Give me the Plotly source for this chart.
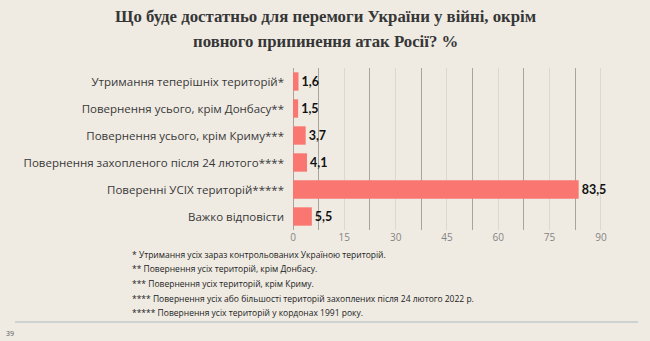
import plotly.graph_objects as go

# Survey answers (%), listed top to bottom
categories = [
    "Утримання теперішніх територій*",
    "Повернення усього, крім Донбасу**",
    "Повернення усього, крім Криму***",
    "Повернення захопленого після 24 лютого****",
    "Поверенні УСІХ територій*****",
    "Важко відповісти",
]
values = [1.6, 1.5, 3.7, 4.1, 83.5, 5.5]
tick_values = [0, 15, 30, 45, 60, 75, 90]

footnotes = [
    "* Утримання усіх зараз контрольованих Україною територій.",
    "** Повернення усіх територій, крім Донбасу.",
    "*** Повернення усіх територій, крім Криму.",
    "**** Повернення усіх або більшості територій захоплених після 24 лютого 2022 р.",
    "***** Повернення усіх територій у кордонах 1991 року.",
]

title_lines = [
    "Що буде достатньо для перемоги України у війні, окрім",
    "повного припинення атак Росії? %",
]

W, H = 650, 341
L, R, T, B = 293, 32, 68, 111
plot_w = W - L - R
plot_h = H - T - B

BG = "#EFEBE3"
BAR = "#FA7670"
SANS = "Open Sans"


def px_to_paper_y(y_px):
    return (H - B - y_px) / plot_h


def px_to_paper_x(x_px):
    return (x_px - L) / plot_w


fig = go.Figure(go.Bar(
    x=values,
    y=categories,
    orientation="h",
    marker=dict(color=BAR, line=dict(width=0)),
    text=values,
    texttemplate="%{x}",
    textposition="outside",
    cliponaxis=False,
    textfont=dict(family="Lato", size=12.5, color="#111111", weight="bold"),
    width=0.68,
))

fig.update_layout(
    width=W, height=H,
    margin=dict(l=L, r=R, t=T, b=B),
    paper_bgcolor=BG,
    plot_bgcolor=BG,
    separators=", ",
    showlegend=False,
)

# Two-line heading, one annotation per line for tighter control of spacing
for i, line in enumerate(title_lines):
    fig.add_annotation(
        text=line, xref="paper", yref="paper",
        x=px_to_paper_x(325), xanchor="center",
        y=px_to_paper_y(17 + i * 25), yanchor="middle",
        showarrow=False,
        font=dict(family="Liberation Serif", size=16.8, color="#363636", weight="bold"),
    )

fig.update_xaxes(
    range=[0, 95],
    tickvals=tick_values,
    showgrid=True,
    gridcolor="#DCD8D0",
    gridwidth=1,
    zeroline=True,
    zerolinecolor="#A8A49C",
    zerolinewidth=1,
    minor=dict(dtick=7.5, tick0=7.5, showgrid=True, gridcolor="#A8A49C", gridwidth=1),
    tickfont=dict(family=SANS, size=10, color="#858585"),
    ticks="",
    showline=False,
)

fig.update_yaxes(
    autorange="reversed",
    tickfont=dict(family=SANS, size=11.5, color="#383838"),
    ticks="",
    ticklabelstandoff=8,
    showgrid=False,
)

# Footnotes under the chart
for i, line in enumerate(footnotes):
    fig.add_annotation(
        text=line, xref="paper", yref="paper",
        x=px_to_paper_x(130), xanchor="left",
        y=px_to_paper_y(254 + i * 14.7), yanchor="middle",
        showarrow=False,
        font=dict(family=SANS, size=8.5, color="#222222"),
    )

# Separator rule and page number
fig.add_shape(
    type="line", xref="paper", yref="paper",
    x0=px_to_paper_x(15), x1=px_to_paper_x(638),
    y0=px_to_paper_y(322), y1=px_to_paper_y(322),
    line=dict(color="#C5CACD", width=1.5),
)
fig.add_annotation(
    text="39", xref="paper", yref="paper",
    x=px_to_paper_x(4), xanchor="left",
    y=px_to_paper_y(333), yanchor="middle",
    showarrow=False,
    font=dict(family=SANS, size=7, color="#555555"),
)

fig.write_html("out.html")
